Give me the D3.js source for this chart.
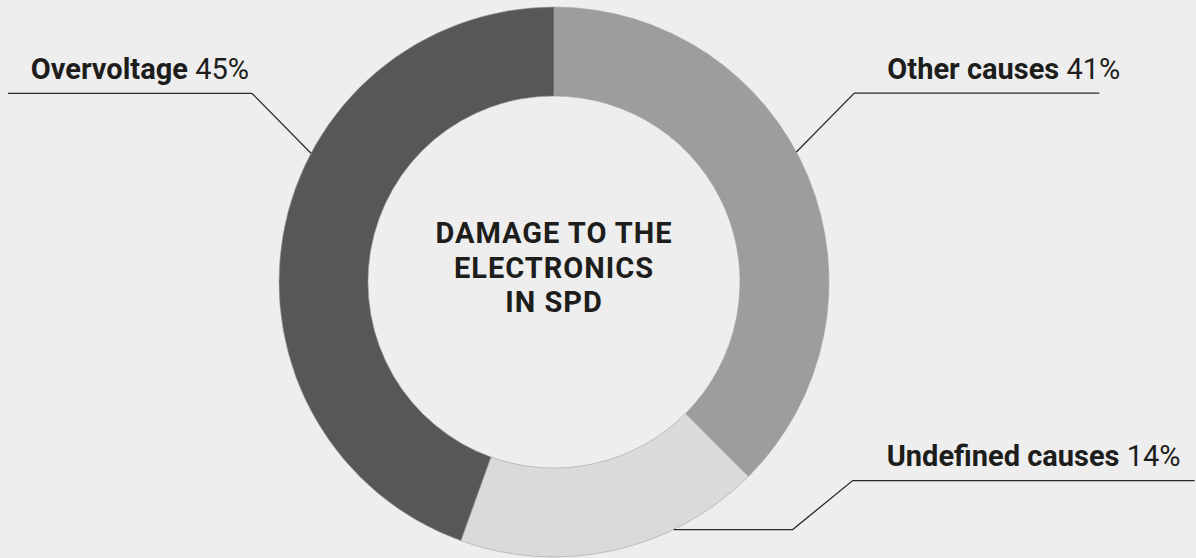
<!DOCTYPE html>
<html>
<head>
<meta charset="utf-8">
<script src="https://cdn.jsdelivr.net/npm/d3@7"></script>
<style>
  html, body { margin: 0; padding: 0; background: #eeeeee; }
  #chart { width: 1196px; height: 558px; }
  text { font-family: Roboto, "Open Sans", sans-serif; }
</style>
</head>
<body>
<div id="chart"></div>
<script>
// slice names, clockwise from 12 o'clock
const categories = ["Other causes", "Undefined causes", "Overvoltage"];
// percentages printed in the labels
const labelPercents = [41, 14, 45];
// arc shares as drawn in the picture (the drawing does not follow the printed numbers)
const sliceShares = [37.5, 18, 44.5];
const centerTitle = ["DAMAGE TO THE", "ELECTRONICS", "IN SPD"];

function initDonut() {
  const W = 1196, H = 558;
  const cx = 554, cy = 282;
  const outerR = 275, innerR = 186;

  const colors = d3.scaleOrdinal()
    .domain(categories)
    .range(["#9d9d9c", "#dadada", "#575756"]);

  const svg = d3.select("#chart").append("svg")
    .attr("width", W).attr("height", H)
    .attr("viewBox", `0 0 ${W} ${H}`);

  svg.append("rect").attr("width", W).attr("height", H).attr("fill", "#eeeeee");

  const data = categories.map((c, i) => ({ name: c, pct: labelPercents[i], share: sliceShares[i] }));

  const pie = d3.pie().sort(null).value(d => d.share);
  const arc = d3.arc().innerRadius(innerR).outerRadius(outerR);
  const arcs = pie(data);

  const g = svg.append("g").attr("transform", `translate(${cx},${cy})`);

  g.selectAll("path.slice")
    .data(arcs)
    .enter().append("path")
    .attr("class", "slice")
    .attr("d", arc)
    .attr("fill", d => colors(d.data.name))
    .attr("stroke", "#a3a3a2")
    .attr("stroke-width", 0.6);

  // leader lines: anchor angle on the outer rim (degrees, clockwise from top),
  // then relative steps for the polyline, then the text offset from the last corner
  const leaders = {
    "Overvoltage":      { angle: 297.9, steps: [[-59, -60], [-244, 0]], corner: 1, text: [-3, -14], anchor: "end" },
    "Other causes":     { angle: 61.8,  steps: [[58, -59], [245, 0]],   corner: 1, text: [33, -14], anchor: "start" },
    "Undefined causes": { angle: 154.2, steps: [[119, 0], [60, -49], [342, 0]], corner: 2, text: [34, -15], anchor: "start" }
  };

  const lineGen = d3.line();

  arcs.forEach(d => {
    const L = leaders[d.data.name];
    const a = L.angle * Math.PI / 180;
    let p = [outerR * Math.sin(a), -outerR * Math.cos(a)];
    const pts = [p.slice()];
    L.steps.forEach(s => { p = [p[0] + s[0], p[1] + s[1]]; pts.push(p.slice()); });

    g.append("path")
      .attr("d", lineGen(pts))
      .attr("fill", "none")
      .attr("stroke", "#2b2b2a")
      .attr("stroke-width", 1.3);

    const c = pts[L.corner];
    const t = g.append("text")
      .attr("x", c[0] + L.text[0])
      .attr("y", c[1] + L.text[1])
      .attr("text-anchor", L.anchor)
      .attr("fill", "#1d1d1b")
      .style("font-size", "29px");
    t.append("tspan").attr("font-weight", 700).text(d.data.name + " ");
    t.append("tspan").attr("font-weight", 400).text(d.data.pct + "%");
  });

  // centre title
  g.append("text")
    .attr("text-anchor", "middle")
    .attr("fill", "#1d1d1b")
    .style("font-size", "29px")
    .style("font-weight", 700)
    .style("letter-spacing", "1px")
    .selectAll("tspan")
    .data(centerTitle)
    .enter().append("tspan")
    .attr("x", 0)
    .attr("y", (d, i) => -39 + i * 34.7)
    .text(d => d);
}

initDonut();
</script>
</body>
</html>
